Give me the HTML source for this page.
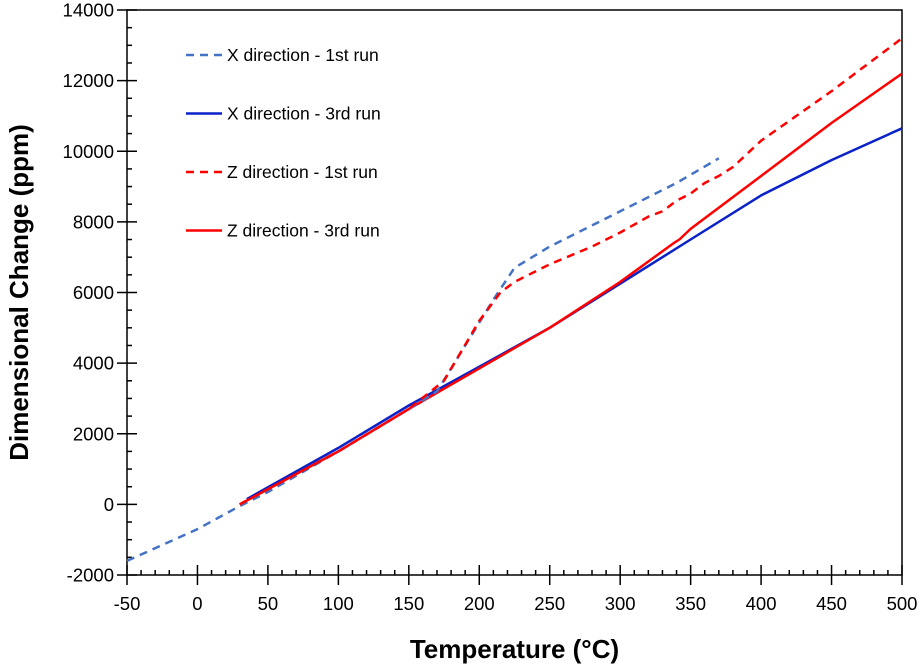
<!DOCTYPE html>
<html><head><meta charset="utf-8"><style>
body{margin:0;background:#fff}
svg{display:block;font-family:"Liberation Sans",Arial,sans-serif}
</style></head><body>
<svg id="c" width="923" height="668" viewBox="0 0 923 668"></svg>
<script>
const xTicks=[-50,0,50,100,150,200,250,300,350,400,450,500];
const yTicks=[-2000,0,2000,4000,6000,8000,10000,12000,14000];
const x1T=[-50,0,30,50,100,150,170,190,210,225,250,300,340,370];
const x1V=[-1600,-700,-50,350,1500,2700,3200,4500,5800,6700,7300,8300,9100,9800];
const x3T=[35,100,150,200,250,300,350,400,450,500];
const x3V=[150,1600,2800,3900,5000,6250,7500,8750,9750,10650];
const z1T=[30,100,150,175,200,215,225,250,280,300,320,330,340,350,360,370,380,400,450,500];
const z1V=[0,1500,2700,3500,5200,6000,6300,6800,7300,7700,8150,8300,8600,8800,9100,9300,9550,10300,11700,13200];
const z3T=[30,100,150,200,250,300,338,342,350,400,450,500];
const z3V=[0,1500,2700,3850,5000,6300,7400,7500,7800,9300,10800,12200];
const L=127,R=902,T=10,B=575;
const sx=v=>L+(v+50)/550*(R-L);
const sy=v=>B-(v+2000)/16000*(B-T);
const svg=document.getElementById('c');
const NS='http://www.w3.org/2000/svg';
function mk(tag,at,txt){const e=document.createElementNS(NS,tag);for(const k in at)e.setAttribute(k,at[k]);if(txt!=null)e.textContent=txt;svg.appendChild(e);return e;}
let e=mk('rect',{x:L,y:T,width:R-L,height:B-T,fill:'none',stroke:'#000','stroke-width':1.5});


for(let v=-50;v<=500;v+=10){const maj=(v%50===0);e=mk('line',{x1:sx(v),x2:sx(v),y1:B-(maj?10:5),y2:B+(maj?10:0),stroke:'#000','stroke-width':1.5});

}
xTicks.forEach(v=>{e=mk('text',{x:sx(v),y:B+35,'text-anchor':'middle','font-size':18.5},String(v));

});
for(let v=-2000;v<=14000;v+=500){const maj=(v%2000===0);e=mk('line',{x1:L-(maj?10:0),x2:L+(maj?10:5),y1:sy(v),y2:sy(v),stroke:'#000','stroke-width':1.5});

}
yTicks.forEach(v=>{e=mk('text',{x:L-13,y:sy(v)+6.5,'text-anchor':'end','font-size':18.5},String(v));

});
e=mk('text',{x:(L+R)/2,y:658,'text-anchor':'middle','font-size':26,'font-weight':'bold'},'Temperature (°C)');


e=mk('text',{x:0,y:0,'text-anchor':'middle','font-size':26,'font-weight':'bold',transform:`translate(28,${(T+B)/2}) rotate(-90)`},'Dimensional Change (ppm)');


function series(ts,vs,col,dash,name){const d=ts.map((t,i)=>(i?'L':'M')+sx(t).toFixed(1)+','+sy(vs[i]).toFixed(1)).join('');
const at={d:d,fill:'none',stroke:col,'stroke-width':2.5,'stroke-linejoin':'round'};if(dash)at['stroke-dasharray']='8,6';
const p=mk('path',at);

}
series(x3T,x3V,'#0A22C8',false,'series-x-3rd-run');
series(z3T,z3V,'#FF0000',false,'series-z-3rd-run');
series(x1T,x1V,'#4472C4',true,'series-x-1st-run');
series(z1T,z1V,'#FF0000',true,'series-z-1st-run');
const leg=[['X direction - 1st run','#4472C4',true],['X direction - 3rd run','#0A22C8',false],['Z direction - 1st run','#FF0000',true],['Z direction - 3rd run','#FF0000',false]];
leg.forEach((l,i)=>{const y=55+i*58.5;
const at={x1:186,x2:222,y1:y,y2:y,stroke:l[1],'stroke-width':2.5};if(l[2])at['stroke-dasharray']='8,6';
e=mk('line',at);


e=mk('text',{x:227,y:y+6,'font-size':17.5},l[0]);

});
</script>
</body></html>
